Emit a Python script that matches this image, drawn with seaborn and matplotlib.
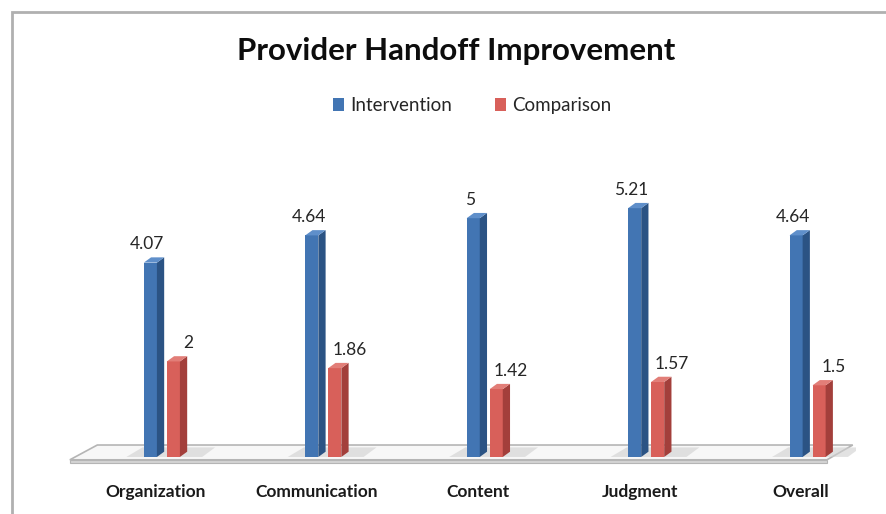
import numpy as np
import pandas as pd
import matplotlib
matplotlib.use("Agg")
import matplotlib.pyplot as plt
from matplotlib.patches import Polygon, Patch, Rectangle
import seaborn as sns

categories = ["Organization", "Communication", "Content", "Judgment", "Overall"]
intervention = [4.07, 4.64, 5.0, 5.21, 4.64]
comparison = [2.0, 1.86, 1.42, 1.57, 1.5]
labels_int = ["4.07", "4.64", "5", "5.21", "4.64"]
labels_cmp = ["2", "1.86", "1.42", "1.57", "1.5"]
series = ["Intervention", "Comparison"]

front = {"Intervention": "#4275b3", "Comparison": "#d8605a"}
side = {"Intervention": "#2b5384", "Comparison": "#a33f3b"}
top = {"Intervention": "#5f8fca", "Comparison": "#e27e78"}

df = pd.DataFrame({
    "category": categories * 2,
    "value": intervention + comparison,
    "series": ["Intervention"] * 5 + ["Comparison"] * 5,
})

sns.set_style("white")
plt.rcParams["font.family"] = ["Lato", "DejaVu Sans"]

fig = plt.figure(figsize=(8.87, 5.14), dpi=100)
ax = fig.add_axes([65 / 887, (514 - 466.5) / 514, 791 / 887, 286.5 / 514])

# floor slab drawn first so bars sit on it
floor_top = [(-0.57, -0.06), (4.12, -0.06), (4.28, 0.25), (-0.40, 0.25)]
floor_front = [(-0.57, -0.06), (4.12, -0.06), (4.12, -0.13), (-0.57, -0.13)]
ax.add_patch(Polygon(floor_top, closed=True, facecolor="#f7f7f7", edgecolor="#b5b5b5", lw=1.2, zorder=0.5))
ax.add_patch(Polygon(floor_front, closed=True, facecolor="#d4d4d4", edgecolor="#b5b5b5", lw=0.8, zorder=0.5))
# soft shadows under each group
for i in range(len(categories)):
    ax.add_patch(Polygon([(i - 0.22, 0.0), (i + 0.25, 0.0), (i + 0.33, 0.2), (i - 0.12, 0.2)],
                         closed=True, facecolor="#d0d0d0", edgecolor="none", alpha=0.6, zorder=0.6))

sns.barplot(data=df, x="category", y="value", hue="series", hue_order=series,
            palette=front, width=0.285, gap=0.43, legend=False, saturation=1,
            edgecolor="none", ax=ax, zorder=2)

dx, dy = 0.045, 0.11
for cont, name, labs in zip(ax.containers, series, [labels_int, labels_cmp]):
    for bar, lab in zip(cont, labs):
        x0 = bar.get_x()
        x1 = x0 + bar.get_width()
        h = bar.get_height()
        ax.add_patch(Polygon([(x1, 0), (x1 + dx, dy), (x1 + dx, h + dy), (x1, h)], closed=True,
                             facecolor=side[name], edgecolor="none", zorder=2))
        ax.add_patch(Polygon([(x0, h), (x1, h), (x1 + dx, h + dy), (x0 + dx, h + dy)], closed=True,
                             facecolor=top[name], edgecolor="none", zorder=2))
        xc = (x0 + x1) / 2 + (-0.02 if name == "Intervention" else 0.09)
        ax.text(xc, h + 0.38, lab, ha="center", va="center", fontsize=12.5, color="#262626")

ax.set_xlim(-0.6, 4.3)
ax.set_ylim(-0.2, 5.8)
ax.axis("off")

for i, c in enumerate(categories):
    ax.text(i - 0.04, -0.74, c, ha="center", va="center", fontsize=12.5, fontweight="bold", color="#1a1a1a")

fig.text(0.514, 1 - 51 / 514, "Provider Handoff Improvement", ha="center", va="center",
         fontsize=22.5, fontweight="bold", color="#0d0d0d")

handles = [Patch(facecolor=front[s], edgecolor="none") for s in series]
fig.legend(handles, series, loc="center", bbox_to_anchor=(0.532, 1 - 106 / 514), ncol=2,
           frameon=False, fontsize=13.5, handlelength=0.6, handleheight=0.7,
           handletextpad=0.3, columnspacing=2.3, labelcolor="#262626")

fig.add_artist(Rectangle((12 / 887, -0.05), 1.0, 1 - 12 / 514 + 0.05, transform=fig.transFigure,
                         fill=False, edgecolor="#b0b0b0", lw=2))

fig.savefig("out.png", dpi=100)
